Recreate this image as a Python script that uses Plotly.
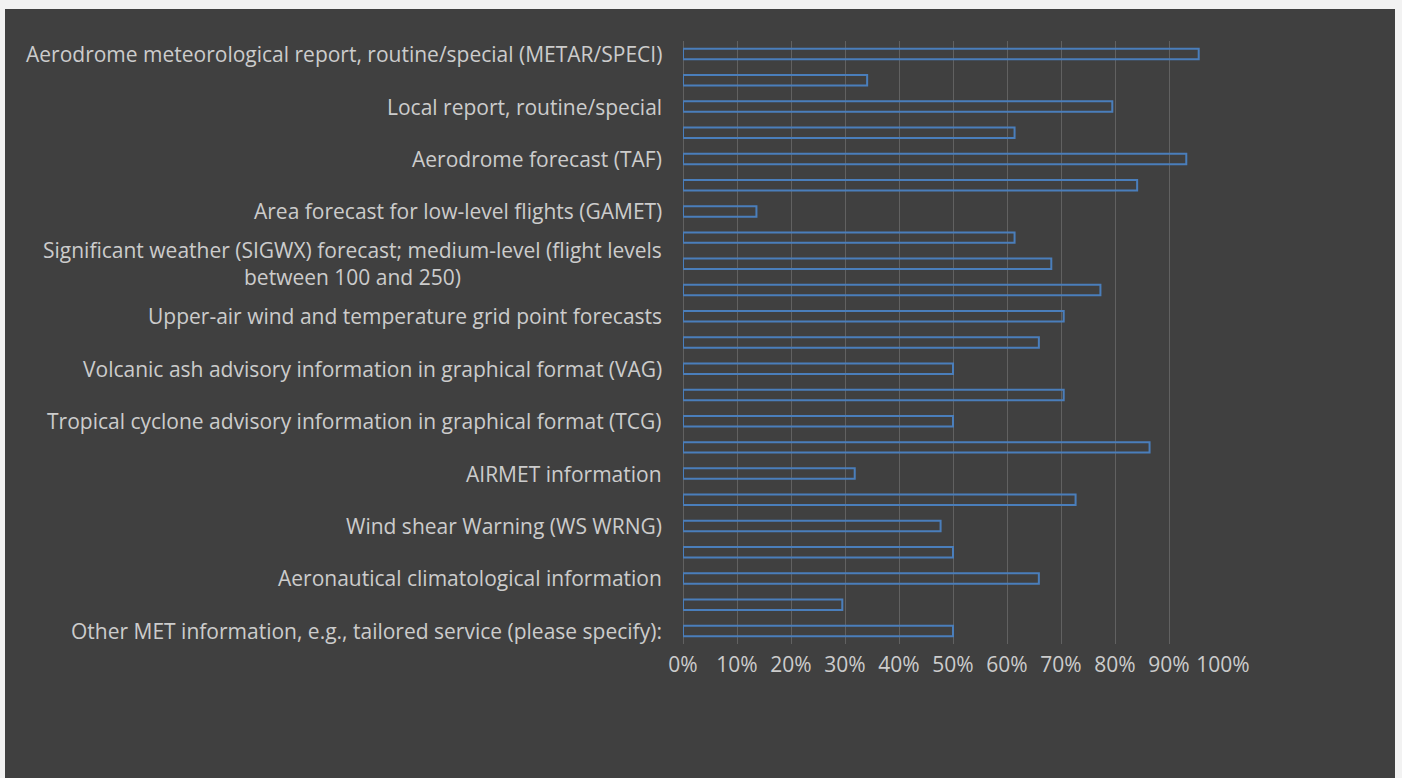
import plotly.graph_objects as go

# Share of respondents using each MET product (23 rows, top to bottom)
shares = [
    0.955, 0.341, 0.795, 0.614, 0.932, 0.841, 0.136, 0.614,
    0.682, 0.773, 0.705, 0.659, 0.500, 0.705, 0.500, 0.864,
    0.318, 0.727, 0.477, 0.500, 0.659, 0.295, 0.500,
]

# Labels shown on every other row (rows 0, 2, 4, ...)
row_labels = [
    "Aerodrome meteorological report, routine/special (METAR/SPECI)",
    "Local report, routine/special",
    "Aerodrome forecast (TAF)",
    "Area forecast for low-level flights (GAMET)",
    "Significant weather (SIGWX) forecast; medium-level (flight levels<br>between 100 and 250)",
    "Upper-air wind and temperature grid point forecasts",
    "Volcanic ash advisory information in graphical format (VAG)",
    "Tropical cyclone advisory information in graphical format (TCG)",
    "AIRMET information",
    "Wind shear Warning (WS WRNG)",
    "Aeronautical climatological information",
    "Other MET information, e.g., tailored service (please specify):",
]

x_ticks = [i / 10 for i in range(11)]

rows = list(range(len(shares)))
labeled_rows = rows[::2]

BG = "#404040"
TEXT = "#cccccc"
FONT = "Open Sans"
SIZE = 21

fig = go.Figure()
fig.add_trace(go.Bar(
    x=shares,
    y=rows,
    orientation="h",
    width=0.4,
    marker=dict(color="rgba(0,0,0,0)", line=dict(color="#4a7ebb", width=2)),
    hoverinfo="x",
    showlegend=False,
))

for r, text in zip(labeled_rows, row_labels):
    fig.add_annotation(
        x=0, xref="paper", y=r, yref="y",
        text=text, showarrow=False,
        xanchor="right", yanchor="middle", align="center",
        xshift=-19,
        font=dict(family=FONT, size=SIZE, color=TEXT),
    )

# dark chart panel inside a thin light frame
fig.add_shape(
    type="rect", xref="paper", yref="paper",
    x0=(5 - 683) / 540, x1=(1395 - 683) / 540,
    y0=(644 - 790) / 603, y1=(644 - 9) / 603,
    fillcolor=BG, line=dict(width=0), layer="below",
)

fig.update_layout(
    width=1402, height=778,
    margin=dict(l=683, r=179, t=41, b=134),
    paper_bgcolor="#f2f2f2",
    plot_bgcolor=BG,
    font=dict(family=FONT, size=SIZE, color=TEXT),
    bargap=0.6,
)
fig.update_xaxes(
    range=[0, 1],
    tickvals=x_ticks,
    tickformat=".0%",
    showgrid=True, gridcolor="#616161", gridwidth=1.2,
    zeroline=True, zerolinecolor="#616161", zerolinewidth=1.2,
    showline=False, ticks="",
    ticklabelstandoff=6,
    tickfont=dict(family=FONT, size=SIZE, color=TEXT),
)
fig.update_yaxes(
    range=[len(shares) - 0.5, -0.5],
    showgrid=False, zeroline=False, showticklabels=False, showline=False,
)

fig.write_html("out.html")
